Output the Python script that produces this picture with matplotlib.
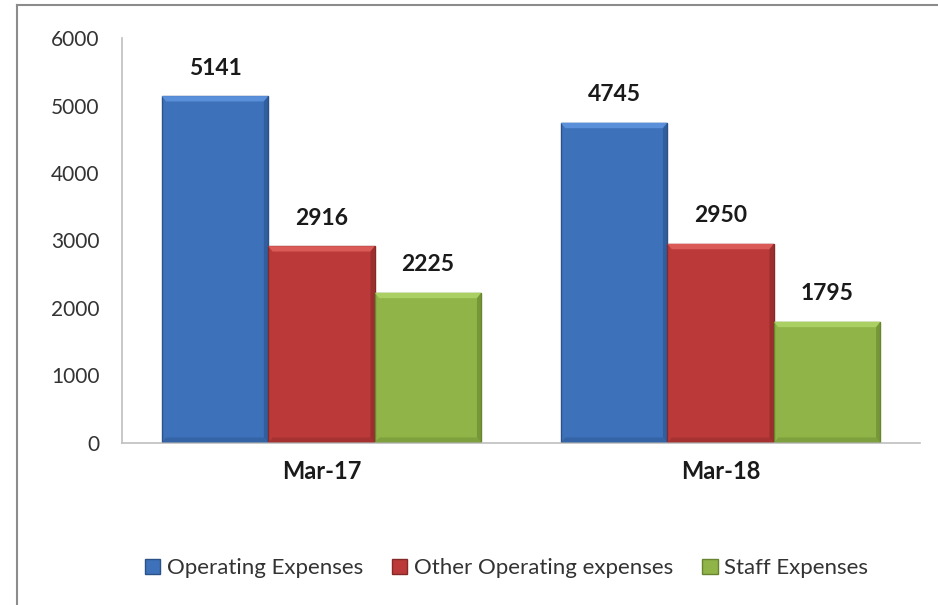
import matplotlib.pyplot as plt
import numpy as np
from matplotlib.lines import Line2D
from matplotlib.patches import Polygon

# Datos
categories = ['Mar-17', 'Mar-18']
series_names = ['Operating Expenses', 'Other Operating expenses', 'Staff Expenses']
operating = [5141, 4745]
other_operating = [2916, 2950]
staff = [2225, 1795]
y_ticks = [0, 1000, 2000, 3000, 4000, 5000, 6000]

face_colors = ['#3D72BA', '#BB3A39', '#90B448']
light_colors = ['#5A90DA', '#DA5A58', '#AACF62']
dark_colors = ['#2A5188', '#862827', '#66852E']

plt.rcParams['font.family'] = ['Lato', 'DejaVu Sans']

fig = plt.figure(figsize=(9.38, 6.05), dpi=100)
ax = fig.add_axes([0.130, 0.268, 0.851, 0.669])

x = np.arange(len(categories))
width = 0.267
values = [operating, other_operating, staff]

# bisel aproximado (en unidades de datos)
bx = 0.011
by = 80

for i, vals in enumerate(values):
    pos = x + (i - 1) * width
    bars = ax.bar(pos, vals, width, color=face_colors[i], edgecolor=dark_colors[i],
                  linewidth=1.0, label=series_names[i], zorder=2)
    for b, v in zip(bars, vals):
        x0 = b.get_x()
        x1 = x0 + b.get_width()
        top = Polygon([[x0, v], [x1, v], [x1 - bx, v - by], [x0 + bx, v - by]],
                      closed=True, facecolor=light_colors[i], edgecolor='none', zorder=3)
        right = Polygon([[x1, v], [x1, 0], [x1 - bx, by], [x1 - bx, v - by]],
                        closed=True, facecolor=dark_colors[i], edgecolor='none', alpha=0.6, zorder=3)
        bottom = Polygon([[x0, 0], [x1, 0], [x1 - bx, by], [x0 + bx, by]],
                         closed=True, facecolor=dark_colors[i], edgecolor='none', alpha=0.4, zorder=3)
        ax.add_patch(top)
        ax.add_patch(right)
        ax.add_patch(bottom)
        ax.text(x0 + b.get_width() / 2, v + 260, str(v), ha='center', va='bottom',
                fontsize=16.5, fontweight='bold', color='#1a1a1a')

ax.set_xlim(-0.5, 1.5)
ax.set_ylim(0, 6000)
ax.set_yticks(y_ticks)
ax.set_yticklabels([str(t) for t in y_ticks], fontsize=15, color='#333333')
ax.set_xticks(x)
ax.set_xticklabels(categories, fontsize=17, fontweight='bold', color='#1a1a1a')
ax.tick_params(axis='y', length=0, pad=16)
ax.tick_params(axis='x', length=0, pad=12)

for s in ['top', 'right']:
    ax.spines[s].set_visible(False)
ax.spines['left'].set_color('#bfbfbf')
ax.spines['bottom'].set_color('#bfbfbf')
ax.spines['left'].set_linewidth(1.2)
ax.spines['bottom'].set_linewidth(1.2)

handles = [plt.Rectangle((0, 0), 1, 1, facecolor=face_colors[i], edgecolor=dark_colors[i])
           for i in range(3)]
fig.legend(handles, series_names, loc='center', bbox_to_anchor=(0.54, 0.061), ncol=3,
           frameon=False, fontsize=16, handlelength=0.7, handleheight=0.7,
           handletextpad=0.3, columnspacing=1.3, labelcolor='#333333')

# Borde del grafico
fig.add_artist(Line2D([17 / 938, 1.0], [1 - 5 / 605, 1 - 5 / 605], color='#8c8c8c', linewidth=1.5))
fig.add_artist(Line2D([17 / 938, 17 / 938], [0, 1 - 5 / 605], color='#8c8c8c', linewidth=1.5))

fig.savefig('out.png', dpi=100)
